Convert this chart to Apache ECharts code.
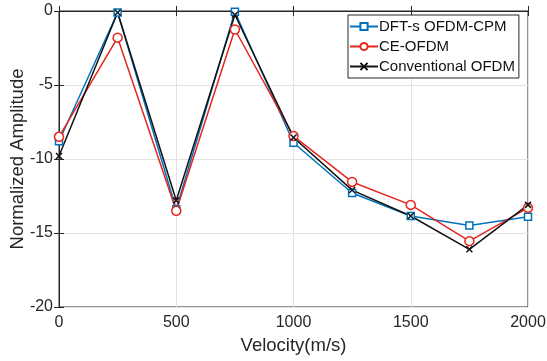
<!DOCTYPE html>
<html><head><meta charset="utf-8">
<script src="https://cdn.jsdelivr.net/npm/echarts@6/dist/echarts.min.js"></script>
<style>html,body{margin:0;padding:0;background:#fff}#c{width:547px;height:361px}</style>
</head><body><div id="c"></div>
<script>
const velocity = [0, 250, 500, 750, 1000, 1250, 1500, 1750, 2000];
const dftsOfdmCpm = [-8.8, -0.1, -13.4, -0.05, -8.9, -12.3, -13.85, -14.5, -13.9];
const ceOfdm = [-8.5, -1.8, -13.5, -1.25, -8.45, -11.55, -13.1, -15.55, -13.3];
const convOfdm = [-9.8, -0.1, -12.8, -0.25, -8.55, -12.1, -13.85, -16.1, -13.1];
const seriesNames = ['DFT-s OFDM-CPM', 'CE-OFDM', 'Conventional OFDM'];

const font = 'Liberation Sans, Arial, sans-serif';
const pair = (ys) => velocity.map((x, i) => [x, ys[i]]);
const chart = echarts.init(document.getElementById('c'));
const xMark = 'path://M0,0L10,10M10,0L0,10';
const mk = (name, data, color, symbol, size, fill) => ({
  name, type: 'line', data: pair(data), symbol, symbolSize: size, clip: false,
  lineStyle: { color, width: 1.5 },
  itemStyle: { color: fill, borderColor: color, borderWidth: 1.5 },
  emphasis: { disabled: true }, animation: false
});
chart.setOption({
  animation: false,
  grid: { left: 59, top: 11, width: 469, height: 296, show: true, borderColor: '#262626', borderWidth: 1,
          containLabel: false, outerBoundsMode: 'none' },
  legend: {
    left: 348, top: 15, orient: 'vertical', itemGap: 3, itemWidth: 28, itemHeight: 9,
    backgroundColor: '#fff', borderColor: '#262626', borderWidth: 1, padding: [3, 4, 3, 1],
    textStyle: { fontFamily: font, fontSize: 15, lineHeight: 17, color: '#111', padding: [0, 0, 0, -4] },
    data: seriesNames
  },
  xAxis: [{
    type: 'value', min: 0, max: 2000, interval: 500,
    name: 'Velocity(m/s)', nameLocation: 'middle', nameGap: 29, nameMoveOverlap: false,
    nameTextStyle: { fontFamily: font, fontSize: 18.5, color: '#262626' },
    axisLine: { lineStyle: { color: '#262626' } },
    axisTick: { inside: true, length: 5, lineStyle: { color: '#262626' } },
    axisLabel: { fontFamily: font, fontSize: 16, color: '#262626', margin: 8, formatter: v => String(v) },
    splitLine: { show: true, lineStyle: { color: '#e2e2e2', width: 1 } }
  }, {
    type: 'value', min: 0, max: 2000, interval: 500, position: 'top',
    axisLine: { show: true, lineStyle: { color: '#262626' } },
    axisTick: { inside: true, length: 5, lineStyle: { color: '#262626' } },
    axisLabel: { show: false }, splitLine: { show: false }
  }],
  yAxis: [{
    type: 'value', min: -20, max: 0, interval: 5,
    name: 'Normalized Amplitude', nameLocation: 'middle', nameGap: 32, nameMoveOverlap: false,
    nameTextStyle: { fontFamily: font, fontSize: 18.5, color: '#262626' },
    axisLine: { show: true, lineStyle: { color: '#262626' } },
    axisTick: { show: true, inside: true, length: 5, lineStyle: { color: '#262626' } },
    axisLabel: { fontFamily: font, fontSize: 16, color: '#262626', margin: 6 },
    splitLine: { show: true, lineStyle: { color: '#e2e2e2', width: 1 } }
  }, {
    type: 'value', min: -20, max: 0, interval: 5, position: 'right',
    axisLine: { show: true, lineStyle: { color: '#262626' } },
    axisTick: { show: true, inside: true, length: 5, lineStyle: { color: '#262626' } },
    axisLabel: { show: false }, splitLine: { show: false }
  }],
  series: [
    mk(seriesNames[0], dftsOfdmCpm, '#0072BD', 'rect', 7, '#fff'),
    mk(seriesNames[1], ceOfdm, '#e5261f', 'circle', 9, '#fff'),
    mk(seriesNames[2], convOfdm, '#111111', xMark, 6, '#111111')
  ]
});
</script></body></html>
